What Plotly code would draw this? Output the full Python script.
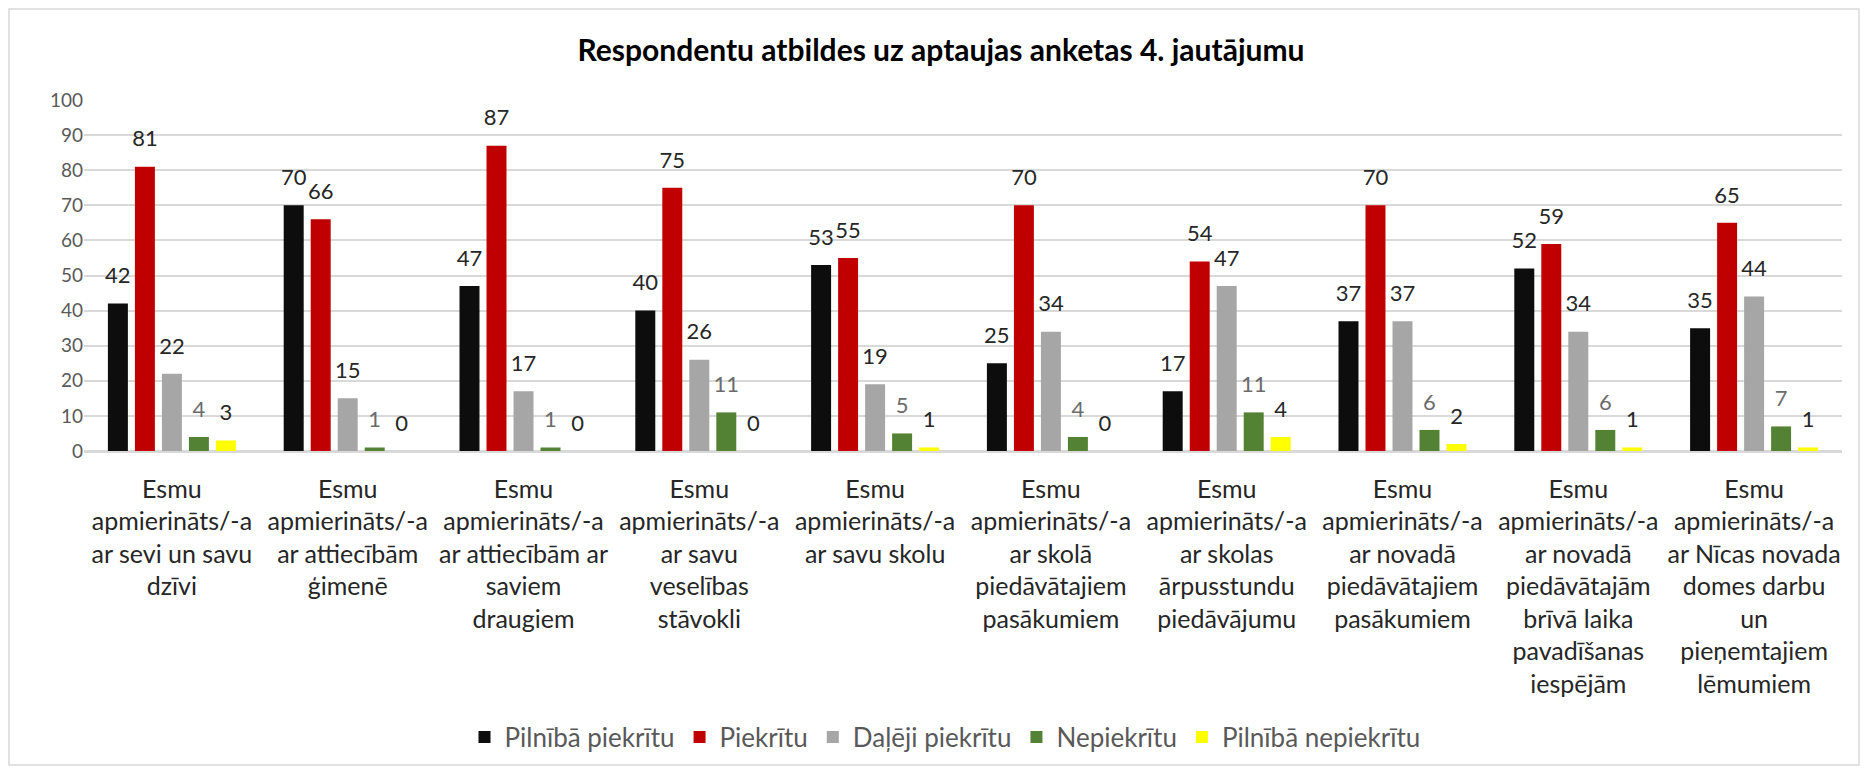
import plotly.graph_objects as go

categories = [
    "Esmu<br>apmierināts/-a<br>ar sevi un savu<br>dzīvi",
    "Esmu<br>apmierināts/-a<br>ar attiecībām<br>ģimenē",
    "Esmu<br>apmierināts/-a<br>ar attiecībām ar<br>saviem<br>draugiem",
    "Esmu<br>apmierināts/-a<br>ar savu<br>veselības<br>stāvokli",
    "Esmu<br>apmierināts/-a<br>ar savu skolu",
    "Esmu<br>apmierināts/-a<br>ar skolā<br>piedāvātajiem<br>pasākumiem",
    "Esmu<br>apmierināts/-a<br>ar skolas<br>ārpusstundu<br>piedāvājumu",
    "Esmu<br>apmierināts/-a<br>ar novadā<br>piedāvātajiem<br>pasākumiem",
    "Esmu<br>apmierināts/-a<br>ar novadā<br>piedāvātajām<br>brīvā laika<br>pavadīšanas<br>iespējām",
    "Esmu<br>apmierināts/-a<br>ar Nīcas novada<br>domes darbu<br>un<br>pieņemtajiem<br>lēmumiem",
]

series_names = ["Pilnībā piekrītu", "Piekrītu", "Daļēji piekrītu", "Nepiekrītu", "Pilnībā nepiekrītu"]

pilniba_piekritu = [42, 70, 47, 40, 53, 25, 17, 37, 52, 35]
piekritu = [81, 66, 87, 75, 55, 70, 54, 70, 59, 65]
daleji_piekritu = [22, 15, 17, 26, 19, 34, 47, 37, 34, 44]
nepiekritu = [4, 1, 1, 11, 5, 4, 11, 6, 6, 7]
pilniba_nepiekritu = [3, 0, 0, 0, 1, 0, 4, 2, 1, 1]

series_values = [pilniba_piekritu, piekritu, daleji_piekritu, nepiekritu, pilniba_nepiekritu]
colors = ["#0d0d0d", "#c00000", "#a6a6a6", "#548235", "#ffff00"]
label_colors = ["#262626", "#262626", "#262626", "#6b6b6b", "#262626"]

FONT = "Lato, Calibri, Carlito, 'Open Sans', sans-serif"

fig = go.Figure()
for i, (name, vals) in enumerate(zip(series_names, series_values)):
    fig.add_trace(go.Bar(
        x=categories, y=vals, name=name,
        marker=dict(color=colors[i], line=dict(width=0)),
        offsetgroup=str(i), alignmentgroup="a",
        hoverinfo="skip",
    ))
for i, (name, vals) in enumerate(zip(series_names, series_values)):
    fig.add_trace(go.Scatter(
        x=categories, y=vals, mode="markers+text",
        text=[str(v) for v in vals], textposition="top center",
        textfont=dict(family=FONT, size=22, color=label_colors[i]),
        marker=dict(size=22, opacity=0, color=colors[i]),
        offsetgroup=str(i), alignmentgroup="a",
        showlegend=False, hoverinfo="skip", cliponaxis=False,
    ))

# page has an 8px body margin; figure is sized to fit inside the window
W, H = 1852, 758
ml, mr, mt, mb = 76, 18, 92, 315
pw, ph = W - ml - mr, H - mt - mb

fig.update_layout(
    width=W, height=H,
    margin=dict(l=ml, r=mr, t=mt, b=mb, autoexpand=False),
    paper_bgcolor="white", plot_bgcolor="white",
    barmode="group", bargap=0.232, bargroupgap=0.26,
    scattermode="group", scattergap=0.232,
    font=dict(family=FONT, color="#262626"),
    title=dict(
        text="<b>Respondentu atbildes uz aptaujas anketas 4. jautājumu</b>",
        font=dict(family=FONT, size=30, color="#000000"),
        x=933 / W, xanchor="center", xref="container",
        y=1 - 42 / H, yanchor="middle", yref="container",
    ),
    legend=dict(
        orientation="h", x=(937 - ml) / pw, xanchor="center",
        y=(443 - 729) / ph, yanchor="middle",
        font=dict(family=FONT, size=26, color="#595959"),
        itemwidth=30, traceorder="normal",
        bgcolor="rgba(0,0,0,0)",
    ),
    showlegend=True,
)
fig.update_yaxes(
    range=[0, 100], dtick=10, tick0=0,
    showgrid=True, gridcolor="#d9d9d9", gridwidth=1.5,
    zeroline=True, zerolinecolor="#d9d9d9", zerolinewidth=1.5,
    showline=False, ticks="", automargin=False,
    tickfont=dict(family=FONT, size=19, color="#595959"),
    fixedrange=True,
)
fig.update_xaxes(
    showgrid=False, showline=True, linecolor="#d9d9d9", linewidth=1.5,
    ticks="", tickangle=0, automargin=False,
    tickfont=dict(family=FONT, size=25, color="#262626"),
    ticklabelstandoff=15,
    fixedrange=True,
)
fig.add_shape(
    type="rect", xref="paper", yref="paper",
    x0=-(ml - 1) / pw, x1=1 + (mr - 1) / pw,
    y0=-(mb - 1) / ph, y1=1 + (mt - 1) / ph,
    line=dict(color="#d9d9d9", width=1.5), fillcolor="rgba(0,0,0,0)",
    layer="below",
)

fig.write_html("out.html", config={"displayModeBar": False})
